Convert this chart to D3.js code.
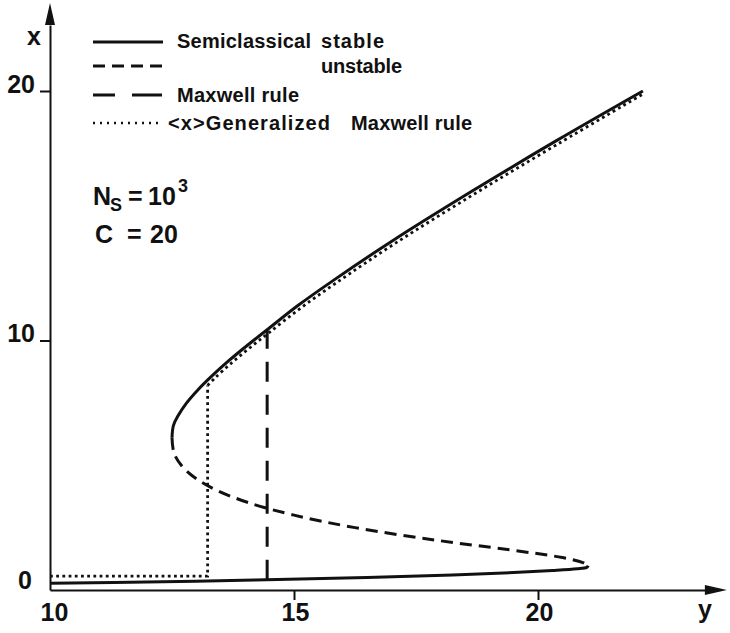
<!DOCTYPE html>
<html>
<head>
<meta charset="utf-8">
<script src="https://cdn.jsdelivr.net/npm/d3@7"></script>
<style>
    body { margin: 0; background: #fff; }
    svg text { font-family: "Liberation Sans", Arial, sans-serif; font-weight: bold; fill: #111; }
</style>
</head>
<body>
<svg id="vis" width="730" height="633"></svg>
<script>
// values: y = input (horizontal), x = output (vertical)

// semiclassical, stable upper branch
const upperY = [12.50, 12.53, 12.63, 12.80, 13.02, 13.33, 13.67, 14.04, 14.43, 15.08, 15.80, 17.02, 18.66, 20.37, 22.15];
const upperX = [6.1, 6.6, 7.0, 7.5, 8.0, 8.6, 9.2, 9.8, 10.4, 11.4, 12.4, 14.0, 16.0, 18.0, 20.0];

// semiclassical, stable lower branch
const lowerY = [10.0, 11.3, 14.2, 16.5, 18.25, 19.5, 20.3, 20.8, 21.0, 21.03];
const lowerX = [0.27, 0.30, 0.40, 0.50, 0.60, 0.70, 0.78, 0.85, 0.91, 0.97];

// semiclassical, unstable middle branch
const unstableY = [12.50, 12.54, 12.69, 12.97, 13.41, 14.07, 15.0, 16.25, 17.9, 19.45, 20.5, 20.92, 21.03];
const unstableX = [6.1, 5.5, 5.0, 4.5, 4.0, 3.5, 3.0, 2.5, 2.0, 1.6, 1.3, 1.1, 0.97];

// Maxwell rule jump
const maxwellY = [14.45, 14.45];
const maxwellX = [0.41, 10.4];

// <x> generalized Maxwell rule
const genY = [10.0, 13.23, 13.23, 13.38, 13.72, 14.09, 14.48, 15.13, 15.85, 17.07, 18.71, 20.41, 22.17];
const genX = [0.56, 0.56, 8.2, 8.5, 9.1, 9.7, 10.3, 11.29, 12.29, 13.89, 15.89, 17.88, 19.9];

const xTicks = [10, 15, 20];
const yTicks = [0, 10, 20];

const legendLabels = ["Semiclassical", "stable", "unstable", "Maxwell rule", "<x>Generalized", "Maxwell rule"];

const svg = d3.select("#vis");

const xs = d3.scaleLinear().domain([10, 20]).range([50, 538]);
const ys = d3.scaleLinear().domain([0, 20]).range([590, 91]);

const xMax = 23.42, yMax = 22.65;

function pts(a, b) { return a.map((v, i) => [v, b[i]]); }

const smooth = d3.line().x(d => xs(d[0])).y(d => ys(d[1])).curve(d3.curveCatmullRom.alpha(0.5));
const straight = d3.line().x(d => xs(d[0])).y(d => ys(d[1]));

// axes
const xAxis = d3.axisBottom(xs.copy().domain([10, xMax]).range([xs(10), xs(xMax)]))
    .tickValues(xTicks).tickSize(10).tickSizeOuter(0);
const yAxis = d3.axisLeft(ys.copy().domain([0, yMax]).range([ys(0), ys(yMax)]))
    .tickValues(yTicks).tickSize(10).tickSizeOuter(0);

const gx = svg.append("g").attr("transform", `translate(0,${ys(0)})`).call(xAxis);
const gy = svg.append("g").attr("transform", `translate(${xs(10)},0)`).call(yAxis);

[gx, gy].forEach(g => {
    g.select(".domain").attr("stroke", "#111").attr("stroke-width", 2);
    g.selectAll(".tick line").attr("stroke", "#111").attr("stroke-width", 2);
    g.selectAll(".tick text").attr("fill", "#111").style("font-size", "25px");
});
gx.selectAll(".tick").filter(d => d === 10).select("line").remove();
gy.selectAll(".tick").filter(d => d === 0).select("line").remove();
gx.selectAll(".tick text").attr("y", 31).attr("dy", 0).attr("dx", d => d === 10 ? 4 : 1);
gy.selectAll(".tick text").attr("x", d => d === 0 ? -18 : -15).attr("dy", d => d === 0 ? -2 : 1);

// arrow heads
svg.append("path")
    .attr("d", `M${xs(10) - 5},${ys(yMax)} L${xs(10)},${ys(yMax) - 22} L${xs(10) + 5},${ys(yMax)} Z`)
    .attr("fill", "#111");
svg.append("path")
    .attr("d", `M${xs(xMax)},${ys(0) - 5} L${xs(xMax) + 22},${ys(0)} L${xs(xMax)},${ys(0) + 5} Z`)
    .attr("fill", "#111");

svg.append("text").attr("x", 27).attr("y", 45).style("font-size", "25px").text("x");
svg.append("text").attr("x", 698).attr("y", 618).style("font-size", "25px").text("y");

// curves
const ink = "#111";
svg.append("path").attr("d", smooth(pts(upperY, upperX)))
    .attr("fill", "none").attr("stroke", ink).attr("stroke-width", 3);
svg.append("path").attr("d", smooth(pts(lowerY, lowerX)))
    .attr("fill", "none").attr("stroke", ink).attr("stroke-width", 3);
svg.append("path").attr("d", smooth(pts(unstableY, unstableX)))
    .attr("fill", "none").attr("stroke", ink).attr("stroke-width", 3).attr("stroke-dasharray", "12,7");
svg.append("path").attr("d", straight(pts(maxwellY, maxwellX)))
    .attr("fill", "none").attr("stroke", ink).attr("stroke-width", 3).attr("stroke-dasharray", "20,13");

const gen = pts(genY, genX);
svg.append("path").attr("d", straight(gen.slice(0, 3)))
    .attr("fill", "none").attr("stroke", ink).attr("stroke-width", 2.8).attr("stroke-dasharray", "2.8,3.4");
svg.append("path").attr("d", smooth(gen.slice(2)))
    .attr("fill", "none").attr("stroke", ink).attr("stroke-width", 2.8).attr("stroke-dasharray", "2.8,3.4");

// legend
const legendRows = [
    { y: 42, dash: null, w: 2.8 },
    { y: 66, dash: "12,7", w: 3 },
    { y: 95, dash: "22,17,30", w: 3 },
    { y: 123, dash: "2,5", w: 2.5 }
];
svg.selectAll(".leg").data(legendRows).join("line")
    .attr("class", "leg")
    .attr("x1", 93).attr("x2", 163)
    .attr("y1", d => d.y).attr("y2", d => d.y)
    .attr("stroke", ink).attr("stroke-width", d => d.w)
    .attr("stroke-dasharray", d => d.dash);

const legendText = [
    { x: 177, y: 48, w: 134 },
    { x: 321, y: 48, w: 63 },
    { x: 321, y: 73, w: 81 },
    { x: 177, y: 102, w: 122 },
    { x: 168, y: 130, w: 162 },
    { x: 351, y: 130, w: 121 }
];
svg.selectAll(".legt").data(legendText).join("text")
    .attr("class", "legt")
    .attr("x", d => d.x).attr("y", d => d.y)
    .attr("textLength", d => d.w).attr("lengthAdjust", "spacing")
    .style("font-size", "20px")
    .text((d, i) => legendLabels[i]);

// parameters
const p1 = svg.append("text").attr("x", 93).attr("y", 205).style("font-size", "25px");
p1.append("tspan").text("N");
p1.append("tspan").attr("x", 110).attr("y", 211).style("font-size", "18px").text("S");
p1.append("tspan").attr("x", 128).attr("y", 205).text("=");
p1.append("tspan").attr("x", 148).text("10");
p1.append("tspan").attr("x", 178).attr("y", 192).style("font-size", "18px").text("3");

const p2 = svg.append("text").attr("x", 95).attr("y", 243).style("font-size", "25px");
p2.append("tspan").text("C");
p2.append("tspan").attr("x", 127).text("=");
p2.append("tspan").attr("x", 150).text("20");
</script>
</body>
</html>
